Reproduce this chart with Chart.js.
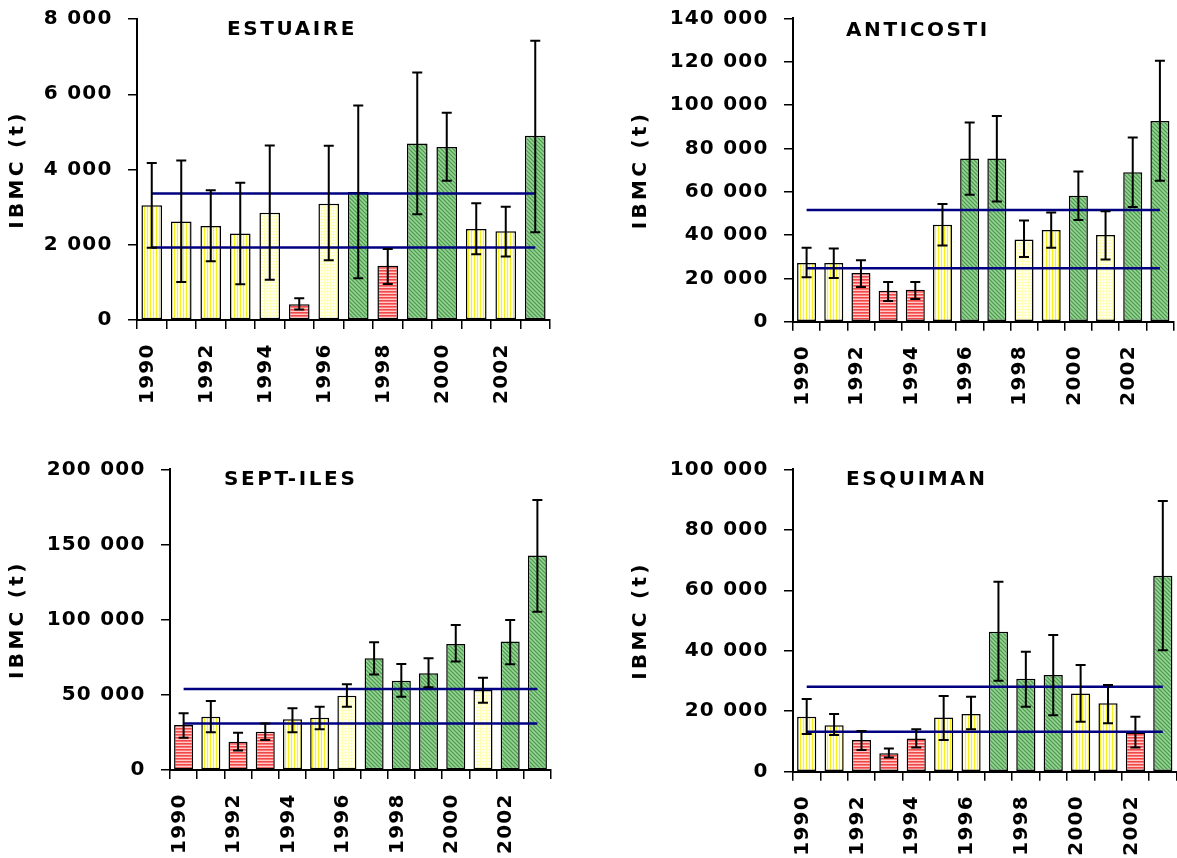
<!DOCTYPE html>
<html>
<head>
<meta charset="utf-8">
<script src="https://cdn.jsdelivr.net/npm/chart.js@4.4.1/dist/chart.umd.min.js"></script>
<style>
html,body{margin:0;padding:0;background:#fff;overflow:hidden;width:1177px;height:858px;}
.panel{position:absolute;overflow:hidden;background:#fff;}
.panel canvas{position:absolute;left:0;top:0;}
</style>
</head>
<body>
<div class="panel" style="left:0;top:0;width:590px;height:405px"><canvas id="cEst" width="590" height="470"></canvas></div>
<div class="panel" style="left:590px;top:0;width:587px;height:405px"><canvas id="cAnt" width="587" height="470"></canvas></div>
<div class="panel" style="left:0;top:440px;width:590px;height:418px"><canvas id="cSep" width="590" height="480"></canvas></div>
<div class="panel" style="left:590px;top:440px;width:587px;height:418px"><canvas id="cEsq" width="587" height="480"></canvas></div>
<script>
// ---------------- DATA ----------------
const years = ['1990','1991','1992','1993','1994','1995','1996','1997','1998','1999','2000','2001','2002','2003'];
const shownYearLabels = ['1990','1992','1994','1996','1998','2000','2002'];
const yAxisTitle = 'IBMC (t)';

// ESTUAIRE
const estTitle = 'ESTUAIRE';
const estValues = [3050, 2620, 2500, 2300, 2850, 420, 3090, 3400, 1440, 4690, 4600, 2420, 2360, 4900];
const estHigh   = [4170, 4240, 3450, 3650, 4640, 580, 4630, 5700, 1890, 6580, 5510, 3100, 3010, 7420];
const estLow    = [1920, 1010, 1560, 950, 1070, 280, 1590, 1110, 960, 2810, 3700, 1750, 1690, 2330];
const estRefHigh = 3360;
const estRefLow = 1930;
const estClass = ['M','M','M','M','m','B','m','A','B','A','A','M','M','A'];
const estTicks = [0, 2000, 4000, 6000, 8000];

// ANTICOSTI
const antTitle = 'ANTICOSTI';
const antValues = [27100, 27100, 22500, 14300, 14700, 44700, 75300, 75300, 38000, 42300, 58100, 40000, 69000, 92600];
const antHigh   = [34100, 33800, 28400, 18300, 18300, 54300, 91900, 94900, 46700, 50400, 69300, 51000, 85000, 120500];
const antLow    = [20500, 20200, 16000, 9600, 10500, 35200, 58600, 55500, 29900, 34100, 47000, 28700, 53000, 65100];
const antRefHigh = 51600;
const antRefLow = 24700;
const antClass = ['M','M','B','B','B','M','A','A','m','M','A','m','A','A'];
const antTicks = [0, 20000, 40000, 60000, 80000, 100000, 120000, 140000];

// SEPT-ILES
const sepTitle = 'SEPT-ILES';
const sepValues = [29900, 35500, 18800, 25500, 33700, 34800, 49400, 74300, 59400, 64300, 83800, 53200, 85400, 142600];
const sepHigh   = [37700, 45900, 24800, 31000, 41000, 42100, 57000, 84900, 70500, 74300, 96500, 61400, 99800, 179600];
const sepLow    = [21500, 25100, 12900, 20000, 25100, 27100, 42100, 63600, 48800, 55000, 72100, 44800, 70300, 105300];
const sepRefHigh = 53900;
const sepRefLow = 31000;
const sepClass = ['B','M','B','B','M','M','m','A','A','A','A','m','A','A'];
const sepTicks = [0, 50000, 100000, 150000, 200000];

// ESQUIMAN
const esqTitle = 'ESQUIMAN';
const esqValues = [18200, 15400, 10500, 6100, 11000, 17900, 19100, 46300, 30700, 32000, 25900, 22600, 13000, 64800];
const esqHigh   = [24000, 19100, 13500, 7700, 14000, 25000, 24800, 62800, 39700, 45200, 35300, 28700, 18200, 89500];
const esqLow    = [12500, 12100, 7200, 4700, 8000, 10500, 14000, 30100, 21500, 18700, 16500, 16000, 8000, 40200];
const esqRefHigh = 28100;
const esqRefLow = 13200;
const esqClass = ['M','M','B','B','B','M','M','A','A','A','M','M','B','A'];
const esqTicks = [0, 20000, 40000, 60000, 80000, 100000];

// ---------------- STYLE ----------------
const FONT = '"DejaVu Sans", "Liberation Sans", Arial, sans-serif';
Chart.defaults.font.family = FONT;
Chart.defaults.color = '#000';
const TICK_LS = '1.2px';
const AXIS_TITLE_LS = '3.3px';
const PANEL_TITLE_LS = '2.6px';

// letter spacing for the axis title
const origDrawTitle = Chart.LinearScale.prototype.drawTitle;
Chart.LinearScale.prototype.drawTitle = function () {
  const c = this.ctx;
  const prev = c.letterSpacing;
  c.letterSpacing = AXIS_TITLE_LS;
  origDrawTitle.call(this);
  c.letterSpacing = prev;
};

function makePattern(kind) {
  const c = document.createElement('canvas');
  const g = c.getContext('2d');
  if (kind === 'M') {          // yellow vertical stripes
    c.width = 3; c.height = 3;
    g.fillStyle = '#ffffe0'; g.fillRect(0, 0, 3, 3);
    g.fillStyle = '#f7f020'; g.fillRect(0, 0, 1, 3);
  } else if (kind === 'm') {   // pale yellow fine grid
    c.width = 3; c.height = 3;
    g.fillStyle = '#fffff2'; g.fillRect(0, 0, 3, 3);
    g.fillStyle = '#ffffb8'; g.fillRect(0, 0, 1, 3); g.fillRect(0, 0, 3, 1);
  } else if (kind === 'B') {   // red horizontal stripes
    c.width = 3; c.height = 3;
    g.fillStyle = '#ee4848'; g.fillRect(0, 0, 3, 1);
    g.fillStyle = '#ff7878'; g.fillRect(0, 1, 3, 1);
    g.fillStyle = '#ffcaca'; g.fillRect(0, 2, 3, 1);
  } else {                     // green fine diagonal texture
    c.width = 4; c.height = 4;
    g.fillStyle = '#78c078'; g.fillRect(0, 0, 4, 4);
    for (let i = 0; i < 4; i++) {
      g.fillStyle = '#4f9a4f'; g.fillRect(i, i, 1, 1);
      g.fillStyle = '#9ad49a'; g.fillRect(i, (i + 2) % 4, 1, 1);
    }
  }
  return g.createPattern(c, 'repeat');
}
const patterns = { M: makePattern('M'), m: makePattern('m'), B: makePattern('B'), A: makePattern('A') };

function fmt(v) {
  return String(v).replace(/\B(?=(\d{3})+(?!\d))/g, ' ');
}

function buildPanel(canvasId, title, values, high, low, refHigh, refLow, classes, ticks, lay) {
  const panelPlugin = {
    id: 'panel_' + canvasId,
    beforeUpdate(chart) { chart.ctx.letterSpacing = TICK_LS; },
    beforeDraw(chart) { chart.ctx.letterSpacing = TICK_LS; },
    afterDatasetsDraw(chart) {
      const ctx = chart.ctx, ys = chart.scales.y, meta = chart.getDatasetMeta(0);
      ctx.save();
      ctx.strokeStyle = '#000';
      ctx.lineWidth = 2;
      meta.data.forEach((bar, i) => {
        const x = bar.x;
        const yh = ys.getPixelForValue(high[i]);
        const yl = ys.getPixelForValue(low[i]);
        ctx.beginPath();
        ctx.moveTo(x, yh); ctx.lineTo(x, yl);
        ctx.moveTo(x - 5, yh); ctx.lineTo(x + 5, yh);
        ctx.moveTo(x - 5, yl); ctx.lineTo(x + 5, yl);
        ctx.stroke();
      });
      ctx.restore();
    },
    afterDraw(chart) {
      const ctx = chart.ctx;
      ctx.save();
      ctx.letterSpacing = PANEL_TITLE_LS;
      ctx.font = 'bold 20px ' + FONT;
      ctx.fillStyle = '#000';
      ctx.textAlign = 'left';
      ctx.textBaseline = 'alphabetic';
      ctx.fillText(title, lay.titleX, lay.titleY);
      ctx.restore();
    }
  };

  const refLine = (v) => ({
    type: 'line',
    data: [{ x: years[0], y: v }, { x: years[years.length - 1], y: v }],
    borderColor: '#000080',
    borderWidth: 2.5,
    pointRadius: 0,
    fill: false,
    order: 0
  });

  return new Chart(document.getElementById(canvasId), {
    type: 'bar',
    data: {
      labels: years,
      datasets: [
        {
          type: 'bar',
          data: values,
          backgroundColor: classes.map(k => patterns[k]),
          borderColor: '#000',
          borderWidth: 1.5,
          borderSkipped: false,
          barPercentage: 0.7,
          categoryPercentage: 1,
          order: 1
        },
        refLine(refHigh),
        refLine(refLow)
      ]
    },
    options: {
      responsive: false,
      animation: false,
      layout: { autoPadding: false, padding: { left: 0, top: lay.top, right: lay.right, bottom: lay.bottom } },
      plugins: { legend: { display: false }, tooltip: { enabled: false }, title: { display: false } },
      scales: {
        x: {
          type: 'category',
          offset: true,
          grid: { display: true, offset: true, drawOnChartArea: false, drawTicks: true, tickLength: 9, color: '#000', lineWidth: 1.5 },
          border: { display: true, color: '#000', width: 2 },
          ticks: {
            autoSkip: false, minRotation: 90, maxRotation: 90, padding: 14.5, labelOffset: -4,
            color: '#000', font: { size: 20, weight: 'bold' },
            callback: function (v) { const l = this.getLabelForValue(v); return shownYearLabels.includes(l) ? l : ''; }
          },
          afterFit(s) { s.height = 100; s.paddingLeft = 0; s.paddingRight = 0; }
        },
        y: {
          type: 'linear',
          min: ticks[0],
          max: ticks[ticks.length - 1],
          afterBuildTicks(s) { s.ticks = ticks.map(v => ({ value: v })); },
          grid: { drawOnChartArea: false, drawTicks: true, tickLength: 9, color: '#000', lineWidth: 1.5 },
          border: { display: true, color: '#000', width: 2 },
          ticks: { padding: 15.5, color: '#000', font: { size: 20, weight: 'bold' }, callback: v => fmt(v) },
          title: { display: true, text: yAxisTitle, color: '#000', font: { size: 20, weight: 'bold' }, padding: { top: lay.titlePad, bottom: 0 } },
          afterFit(s) { s.width = lay.yWidth; s.paddingTop = 0; s.paddingBottom = 0; s.paddingLeft = 0; s.paddingRight = 0; }
        }
      }
    },
    plugins: [panelPlugin]
  });
}

buildPanel('cEst', estTitle, estValues, estHigh, estLow, estRefHigh, estRefLow, estClass, estTicks,
  { top: 19, right: 40, bottom: 50, yWidth: 137, titlePad: 6, titleX: 227, titleY: 35 });
buildPanel('cAnt', antTitle, antValues, antHigh, antLow, antRefHigh, antRefLow, antClass, antTicks,
  { top: 18.4, right: 3.5, bottom: 48.3, yWidth: 203, titlePad: 39, titleX: 256, titleY: 36 });
buildPanel('cSep', sepTitle, sepValues, sepHigh, sepLow, sepRefHigh, sepRefLow, sepClass, sepTicks,
  { top: 29.3, right: 39, bottom: 50, yWidth: 170, titlePad: 6, titleX: 224, titleY: 45 });
buildPanel('cEsq', esqTitle, esqValues, esqHigh, esqLow, esqRefHigh, esqRefLow, esqClass, esqTicks,
  { top: 29.3, right: 0.5, bottom: 48.3, yWidth: 203, titlePad: 39, titleX: 256, titleY: 45 });
</script>
</body>
</html>
